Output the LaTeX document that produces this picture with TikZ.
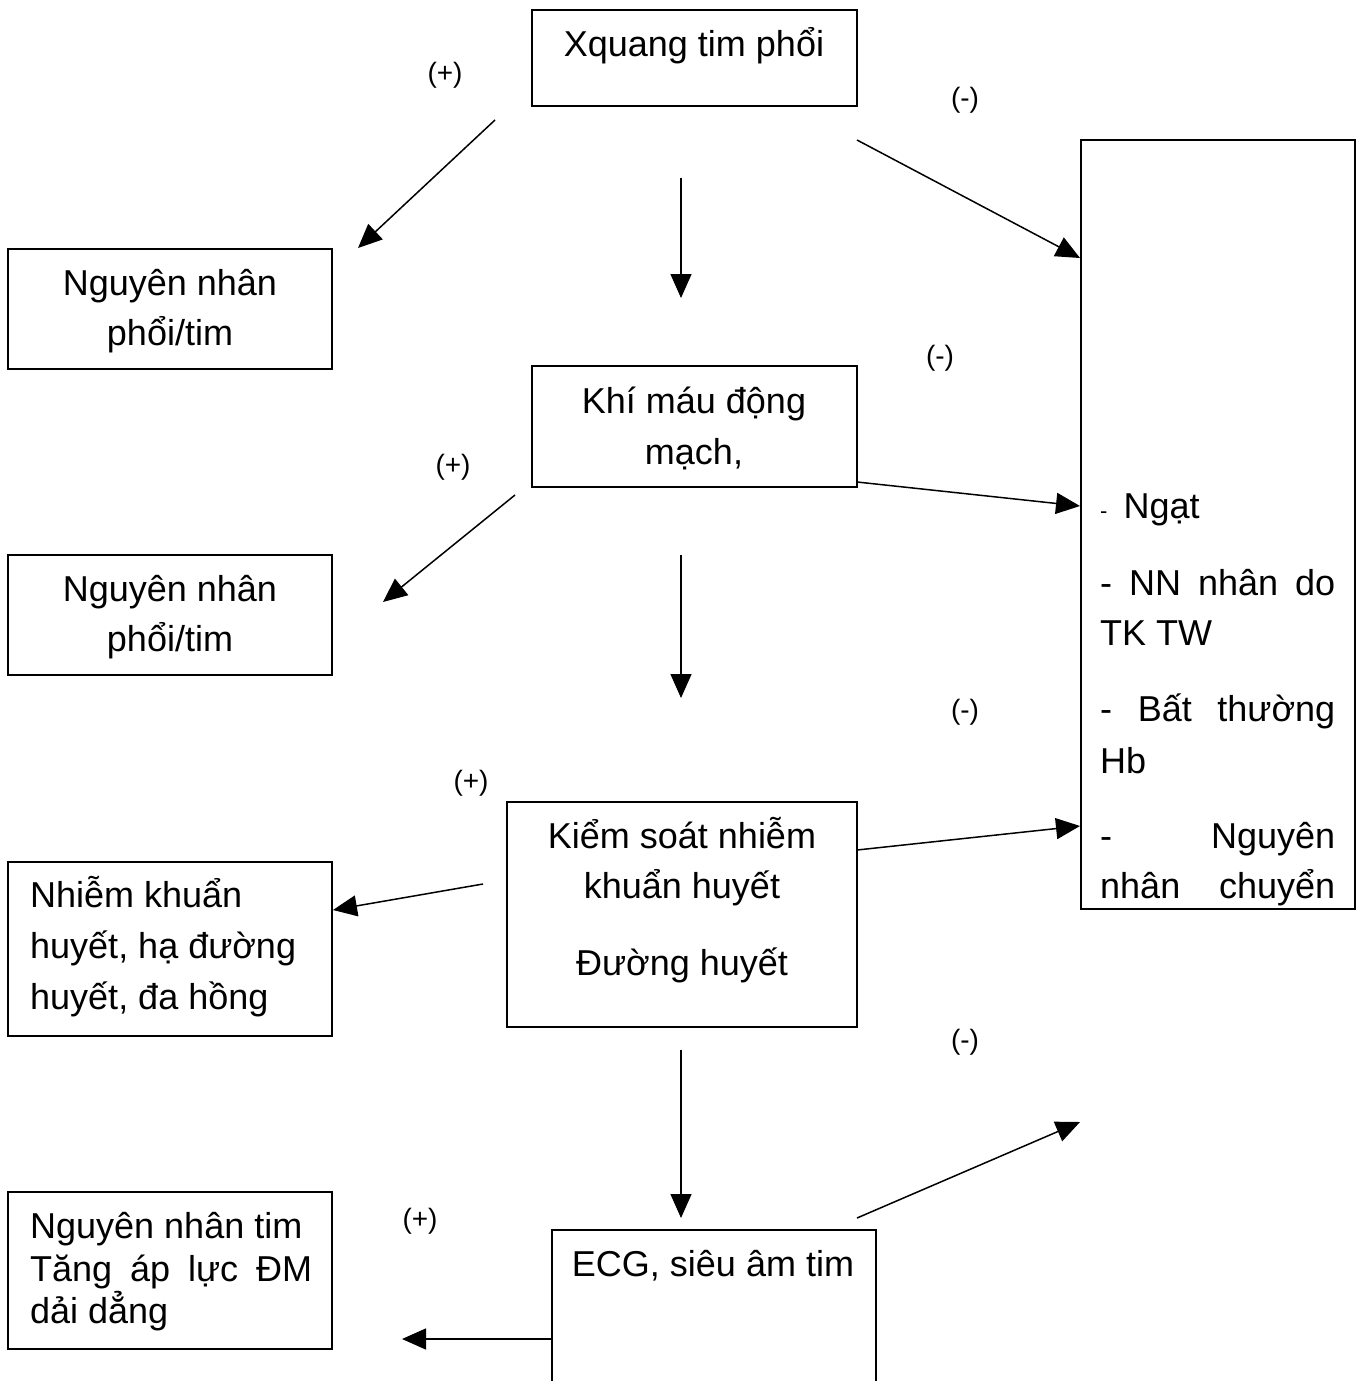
\documentclass[tikz,border=0pt]{standalone}
\usepackage{fontspec}
\setmainfont{Liberation Sans}
\usetikzlibrary{arrows.meta}
\newcommand\bigf{\fontsize{36pt}{50pt}\selectfont}
\newcommand\smallf{\fontsize{28pt}{32pt}\selectfont}
\begin{document}
\begin{tikzpicture}[x=1pt,y=-1pt,
  boxst/.style={draw, line width=1.6pt, anchor=north west, inner sep=0pt, outer sep=0pt},
  tc/.style={anchor=base, inner sep=0pt, font=\bigf},
  tl/.style={anchor=base west, inner sep=0pt, font=\bigf},
  sign/.style={inner sep=0pt, font=\smallf},
  arr/.style={line width=1.5pt, -{Triangle[length=24pt,width=21pt]}}]
\useasboundingbox[fill=white] (0,0) rectangle (1362,1381);
% boxes
\node[boxst, minimum width=325pt, minimum height=96pt] (b1) at (532,10) {};
\node[boxst, minimum width=324pt, minimum height=120pt] (l1) at (8,249) {};
\node[boxst, minimum width=274pt, minimum height=769pt] (r) at (1081,140) {};
\node[boxst, minimum width=325pt, minimum height=121pt] (b2) at (532,366) {};
\node[boxst, minimum width=324pt, minimum height=120pt] (l2) at (8,555) {};
\node[boxst, minimum width=350pt, minimum height=225pt] (b3) at (507,802) {};
\node[boxst, minimum width=324pt, minimum height=174pt] (l3) at (8,862) {};
\node[boxst, minimum width=324pt, minimum height=157pt] (l4) at (8,1192) {};
\node[boxst, minimum width=324pt, minimum height=170pt] (b4) at (552,1230) {};
% texts
\node[tc] (t1) at (694,57) {Xquang tim phổi};
\node[tc] (t2a) at (170,295) {Nguyên nhân};
\node[tc] (t2b) at (170,345) {phổi/tim};
\node[tc] (t3a) at (694,413) {Khí máu động};
\node[tc] (t3b) at (694,464) {mạch,};
\node[tc] (t4a) at (170,601) {Nguyên nhân};
\node[tc] (t4b) at (170,651) {phổi/tim};
\node[tc] (t5a) at (682,848) {Kiểm soát nhiễm};
\node[tc] (t5b) at (682,898) {khuẩn huyết};
\node[tc] (t5c) at (682,975) {Đường huyết};
\node[tl] (t6a) at (30,907) {Nhiễm khuẩn};
\node[tl] (t6b) at (30,958) {huyết, hạ đường};
\node[tl] (t6c) at (30,1009) {huyết, đa hồng};
\node[tl] (t7a) at (30,1238) {Nguyên nhân tim};
\node[tl] (t7b) at (30,1281) {\hbox to 282pt{Tăng\hfill áp\hfill lực\hfill ĐM}};
\node[tl] (t7c) at (30,1323) {dải dẳng};
\node[tc] (t8) at (713,1276) {ECG, siêu âm tim};
\begin{scope}
\clip (1081,140) rectangle (1355,909);
\node[tl] (r1) at (1100,518) {{\fontsize{22pt}{24pt}\selectfont -}\hspace{16pt}Ngạt};
\node[tl] (r2) at (1100,595) {\hbox to 235pt{-\hfill NN\hfill nhân\hfill do}};
\node[tl] (r3) at (1100,645) {TK TW};
\node[tl] (r4) at (1100,721) {\hbox to 235pt{-\hfill Bất\hfill thường}};
\node[tl] (r5) at (1100,773) {Hb};
\node[tl] (r6) at (1100,848) {\hbox to 235pt{-\hfill Nguyên}};
\node[tl] (r7) at (1100,898) {\hbox to 235pt{nhân\hfill chuyển}};
\end{scope}
% signs
\node[sign] (s1) at (445,75) {(+)};
\node[sign] (s2) at (965,100) {(-)};
\node[sign] (s3) at (940,358) {(-)};
\node[sign] (s4) at (453,467) {(+)};
\node[sign] (s5) at (965,712) {(-)};
\node[sign] (s6) at (471,783) {(+)};
\node[sign] (s7) at (965,1042) {(-)};
\node[sign] (s8) at (420,1221) {(+)};
% arrow endpoints
\coordinate (a1s) at (495,120); \coordinate (a1e) at (358,248);
\coordinate (a2s) at (681,178); \coordinate (a2e) at (681,298);
\coordinate (a3s) at (857,140); \coordinate (a3e) at (1080,258);
\coordinate (a4s) at (515,495); \coordinate (a4e) at (383,602);
\coordinate (a5s) at (681,555); \coordinate (a5e) at (681,698);
\coordinate (a6s) at (857,482); \coordinate (a6e) at (1080,506);
\coordinate (a7s) at (857,850); \coordinate (a7e) at (1080,826);
\coordinate (a8s) at (483,884); \coordinate (a8e) at (333,910);
\coordinate (a9s) at (681,1050); \coordinate (a9e) at (681,1218);
\coordinate (a10s) at (857,1218); \coordinate (a10e) at (1080,1122);
\coordinate (a11s) at (552,1339); \coordinate (a11e) at (402,1339);
\foreach \i in {1,...,11} {\draw[arr] (a\i s) -- (a\i e);}
\end{tikzpicture}
\end{document}
